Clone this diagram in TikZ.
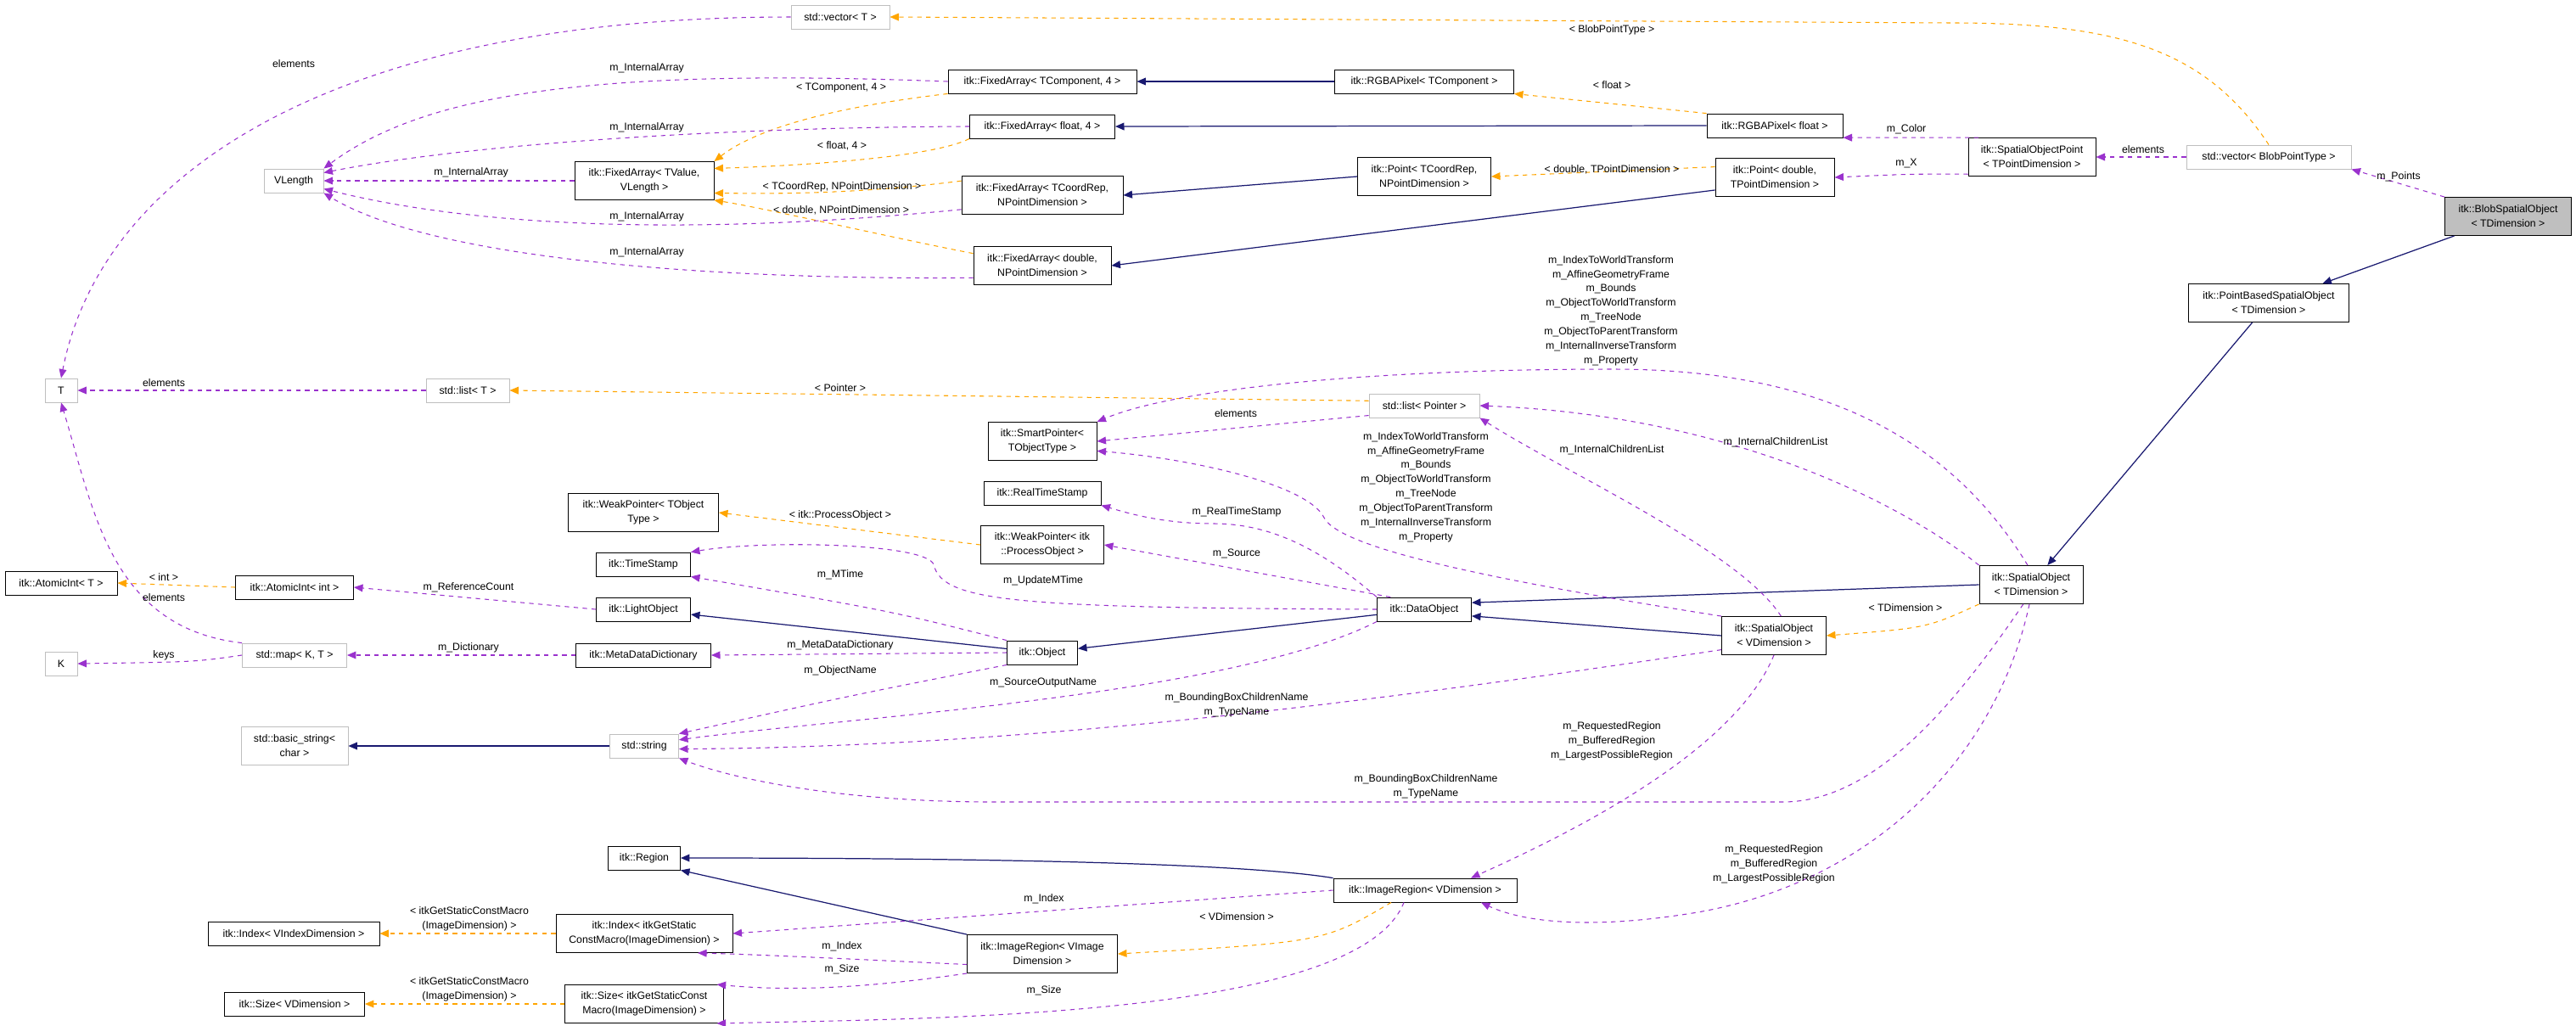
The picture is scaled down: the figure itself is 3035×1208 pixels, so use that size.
\documentclass[tikz,border=0pt]{standalone}
\usepackage{fontspec}
\setmainfont{Liberation Sans}
\usetikzlibrary{arrows.meta}
\definecolor{dgPurple}{HTML}{9A32CD}
\definecolor{dgBlue}{HTML}{191970}
\definecolor{dgOrange}{HTML}{FFA500}
\definecolor{dgGray}{HTML}{BFBFBF}
\newcommand{\dgfont}{\fontsize{7}{9.6}\selectfont}
\tikzset{
  cls/.style = {draw = black, fill = white, line width = 0.5pt, inner sep = 1pt,
    minimum height = 0.56cm, align = center, font = \dgfont},
  ext/.style = {cls, draw = dgGray},
  two/.style = {minimum height = 0.9cm},
  pw/.style = {minimum width = #1*0.02cm},
  lbl/.style = {font = \dgfont, align = center, inner sep = 0pt},
  uses/.style = {dgPurple, line width = 0.6pt, dashed, -{Triangle[length = 6pt, width = 5pt]}},
  inh/.style = {dgBlue, line width = 0.7pt, -{Triangle[length = 6pt, width = 5pt]}},
  tmpl/.style = {dgOrange, line width = 0.6pt, dashed, -{Triangle[length = 6pt, width = 5pt]}}
}

\begin{document}
\begin{tikzpicture}[x = 0.02cm, y = -0.02cm]
    \useasboundingbox (0, 0) rectangle (3035, 1208);
    % classes
    \node[ext, pw = 116] (vecT) at (990, 20) {std::vector< T >};
    \node[ext, pw = 70] (vlen) at (346, 213) {VLength};
    \node[cls, two, pw = 164] (faV) at (759, 213) {itk::FixedArray< TValue,\\ VLength >};
    \node[cls, pw = 222] (faC) at (1228, 96) {itk::FixedArray< TComponent, 4 >};
    \node[cls, pw = 211] (rgbaC) at (1678, 96) {itk::RGBAPixel< TComponent >};
    \node[cls, pw = 171] (faF) at (1228, 149) {itk::FixedArray< float, 4 >};
    \node[cls, two, pw = 157] (ptC) at (1678, 208) {itk::Point< TCoordRep,\\ NPointDimension >};
    \node[cls, two, pw = 190] (faR) at (1228, 230) {itk::FixedArray< TCoordRep,\\ NPointDimension >};
    \node[cls, two, pw = 162] (faD) at (1228, 313) {itk::FixedArray< double,\\ NPointDimension >};
    \node[cls, pw = 160] (rgbaF) at (2091, 148) {itk::RGBAPixel< float >};
    \node[cls, two, pw = 140] (ptD) at (2091, 209) {itk::Point< double,\\ TPointDimension >};
    \node[cls, two, pw = 150] (sop) at (2394, 185) {itk::SpatialObjectPoint\\ < TPointDimension >};
    \node[ext, pw = 194] (vecB) at (2673, 185) {std::vector< BlobPointType >};
    \node[cls, two, pw = 149, fill = dgGray] (blob) at (2955, 255) {itk::BlobSpatialObject\\ < TDimension >};
    \node[cls, two, pw = 189] (pbso) at (2673, 357) {itk::PointBasedSpatialObject\\ < TDimension >};
    \node[ext, pw = 38] (T) at (72, 460) {T};
    \node[ext, pw = 98] (listT) at (551, 460) {std::list< T >};
    \node[ext, pw = 130] (listP) at (1678, 478) {std::list< Pointer >};
    \node[cls, two, pw = 128] (smart) at (1228, 520) {itk::SmartPointer<\\ TObjectType >};
    \node[cls, pw = 138] (rts) at (1228, 581) {itk::RealTimeStamp};
    \node[cls, two, pw = 177] (weakT) at (758, 604) {itk::WeakPointer< TObject\\ Type >};
    \node[cls, two, pw = 145] (weakP) at (1228, 642) {itk::WeakPointer< itk\\ ::ProcessObject >};
    \node[cls, pw = 111] (ts) at (758, 665) {itk::TimeStamp};
    \node[cls, two, pw = 122] (so) at (2393, 689) {itk::SpatialObject\\ < TDimension >};
    \node[cls, pw = 132] (atomT) at (72, 687) {itk::AtomicInt< T >};
    \node[cls, pw = 139] (atomI) at (347, 692) {itk::AtomicInt< int >};
    \node[cls, pw = 111] (light) at (758, 718) {itk::LightObject};
    \node[cls, pw = 111] (data) at (1678, 718) {itk::DataObject};
    \node[cls, two, pw = 123] (sov) at (2090, 749) {itk::SpatialObject\\ < VDimension >};
    \node[cls, pw = 83] (obj) at (1228, 769) {itk::Object};
    \node[cls, pw = 159] (mdd) at (758, 772) {itk::MetaDataDictionary};
    \node[ext, pw = 123] (map) at (347, 772) {std::map< K, T >};
    \node[ext, pw = 38] (K) at (72, 782) {K};
    \node[ext, two, pw = 126] (bstr) at (347, 879) {std::basic\_string<\\ char >};
    \node[ext, pw = 81] (str) at (759, 879) {std::string};
    \node[cls, pw = 85] (region) at (759, 1011) {itk::Region};
    \node[cls, pw = 216] (irv) at (1679, 1049) {itk::ImageRegion< VDimension >};
    \node[cls, two, pw = 208] (idxS) at (759, 1100) {itk::Index< itkGetStatic\\ ConstMacro(ImageDimension) >};
    \node[cls, pw = 202] (idxV) at (346, 1100) {itk::Index< VIndexDimension >};
    \node[cls, two, pw = 177] (iri) at (1228, 1124) {itk::ImageRegion< VImage\\ Dimension >};
    \node[cls, two, pw = 187] (sizS) at (759, 1183) {itk::Size< itkGetStaticConst\\ Macro(ImageDimension) >};
    \node[cls, pw = 165] (sizV) at (347, 1183) {itk::Size< VDimension >};

    % inheritance
    \draw[inh] (blob) -- (pbso);
    \draw[inh] (pbso) -- (so);
    \draw[inh] (so.west) -- (data.8);
    \draw[inh] (sov.west) -- (data.-8);
    \draw[inh] (data) -- (obj);
    \draw[inh] (obj) -- (light);
    \draw[inh] (str) -- (bstr);
    \draw[inh] (irv.north west) .. controls (1450, 1015) and (1100, 1011) .. (region.east);
    \draw[inh] (iri.north west) -- (region.south east);
    \draw[inh] (rgbaC) -- (faC);
    \draw[inh] (rgbaF.west) -- (faF.east);
    \draw[inh] (ptC.west) -- (faR.east);
    \draw[inh] (ptD.-168) -- (faD.east);

    % template instances
    \draw[tmpl] (vecB.north) .. controls (2600, 60) and (2500, 27) .. (2300, 27) -- (vecT.east);
    \draw[tmpl] (rgbaF.north west) -- (rgbaC.south east);
    \draw[tmpl] (ptD.170) -- (ptC.east);
    \draw[tmpl] (faC.south west) .. controls (950, 130) and (880, 160) .. (faV.north east);
    \draw[tmpl] (faF.south west) .. controls (1100, 185) and (950, 195) .. (faV.10);
    \draw[tmpl] (faR.170) .. controls (1000, 230) and (900, 228) .. (faV.-10);
    \draw[tmpl] (faD.170) .. controls (1050, 280) and (900, 245) .. (faV.south east);
    \draw[tmpl] (listP.175) -- (listT.east);
    \draw[tmpl] (atomI.west) -- (atomT.east);
    \draw[tmpl] (weakP.west) -- (weakT.east);
    \draw[tmpl] (so.south west) .. controls (2270, 740) .. (sov.east);
    \draw[tmpl] ([xshift = -0.8cm]irv.south) .. controls (1560, 1110) .. (iri.east);
    \draw[tmpl] (idxS.west) -- (idxV.east);
    \draw[tmpl] (sizS.west) -- (sizV.east);

    % members
    \draw[uses] (vecT.west) .. controls (400, 20) and (120, 200) .. (T.north);
    \draw[uses] (faC.west) .. controls (700, 80) and (500, 110) .. (vlen.north east);
    \draw[uses] (faF.west) .. controls (850, 150) and (550, 170) .. (vlen.15);
    \draw[uses] (faV.west) -- (vlen.east);
    \draw[uses] (faR.-170) .. controls (800, 280) and (550, 265) .. (vlen.-15);
    \draw[uses] (faD.-170) .. controls (800, 330) and (500, 300) .. (vlen.south east);
    \draw[uses] (listT.west) -- (T.east);
    \draw[uses] (map.north west) .. controls (130, 740) and (110, 600) .. (T.south);
    \draw[uses] (map.west) .. controls (230, 780) .. (K.east);
    \draw[uses] (mdd.west) -- (map.east);
    \draw[uses] (light.west) -- (atomI.east);
    \draw[uses] (obj.west) -- (mdd.east);
    \draw[uses] (obj.north west) .. controls (1050, 720) .. (ts.south east);
    \draw[uses] (data.west) .. controls (1200, 716) and (1110, 710) .. (1100, 665)
      .. controls (1090, 640) and (900, 636) .. (ts.north east);
    \draw[uses] (data.north west) .. controls (1560, 650) and (1500, 617) .. (1430, 617)
      .. controls (1370, 617) and (1330, 605) .. (rts.south east);
    \draw[uses] (data.160) -- (weakP.east);
    \draw[uses] (listP.-170) -- (smart.east);
    \draw[uses] (sov.north west) .. controls (1800, 690) and (1580, 650) .. (1560, 610)
      .. controls (1540, 570) and (1400, 540) .. (smart.-10);
    \draw[uses] (so.100) .. controls (2300, 520) and (2150, 435) .. (1900, 435)
      .. controls (1600, 435) and (1380, 460) .. (smart.north east);
    \draw[uses] (sov.70) .. controls (2050, 650) and (1850, 560) .. (listP.south east);
    \draw[uses] (so.north west) .. controls (2250, 600) and (2050, 490) .. (listP.east);
    \draw[uses] (sov.south) .. controls (2050, 870) and (1900, 960) .. ([xshift = 1.08cm]irv.north);
    \draw[uses] (so.-95) .. controls (2350, 900) and (2200, 1040) .. (2000, 1075)
      .. controls (1850, 1100) and (1780, 1080) .. ([xshift = 1.32cm]irv.south);
    \draw[uses] (so.-112) .. controls (2290, 850) and (2200, 945) .. (2100, 945) -- (1170, 945)
      .. controls (1000, 945) and (870, 920) .. (str.south east);
    \draw[uses] (sov.-165) .. controls (1600, 830) and (1200, 880) .. (str.-5);
    \draw[uses] (data.south west) .. controls (1450, 820) and (1000, 845) .. (str.10);
    \draw[uses] (obj.south west) .. controls (1000, 820) .. (str.north east);
    \draw[uses] (irv.west) -- (idxS.east);
    \draw[uses] (iri.-172) .. controls (1000, 1130) and (900, 1125) .. (idxS.-20);
    \draw[uses] (iri.south west) .. controls (1050, 1160) and (950, 1170) .. (sizS.15);
    \draw[uses] ([xshift = -0.5cm]irv.south) .. controls (1600, 1200) and (1100, 1200) .. (sizS.-15);
    \draw[uses] (vecB.west) -- (sop.east);
    \draw[uses] (sop.160) -- (rgbaF.-10);
    \draw[uses] (sop.-165) .. controls (2250, 205) .. (ptD.east);
    \draw[uses] (blob.north west) -- (vecB.south east);

    % labels
    \node[lbl] (lBlob) at (1899, 35) {< BlobPointType >};
    \node[lbl] (lFloat) at (1899, 100) {< float >};
    \node[lbl] (lDblT) at (1899, 200) {< double, TPointDimension >};
    \node[lbl] (lSoSmart) at (1898, 366) {m\_IndexToWorldTransform\\ m\_AffineGeometryFrame\\ m\_Bounds\\
      m\_ObjectToWorldTransform\\ m\_TreeNode\\ m\_ObjectToParentTransform\\ m\_InternalInverseTransform\\ m\_Property};
    \node[lbl] (lVecT) at (346, 75) {elements};
    \node[lbl] (lArrC) at (762, 80) {m\_InternalArray};
    \node[lbl] (lArrF) at (762, 150) {m\_InternalArray};
    \node[lbl] (lArrV) at (555, 203) {m\_InternalArray};
    \node[lbl] (lArrR) at (762, 255) {m\_InternalArray};
    \node[lbl] (lArrD) at (762, 297) {m\_InternalArray};
    \node[lbl] (lTC) at (991, 103) {< TComponent, 4 >};
    \node[lbl] (lTF) at (992, 172) {< float, 4 >};
    \node[lbl] (lTR) at (992, 220) {< TCoordRep, NPointDimension >};
    \node[lbl] (lTD) at (991, 248) {< double, NPointDimension >};
    \node[lbl] (lColor) at (2246, 152) {m\_Color};
    \node[lbl] (lX) at (2246, 192) {m\_X};
    \node[lbl] (lSop) at (2525, 176) {elements};
    \node[lbl] (lPoints) at (2826, 208) {m\_Points};
    \node[lbl] (lListT) at (193, 451) {elements};
    \node[lbl] (lInt) at (193, 680) {< int >};
    \node[lbl] (lMapT) at (193, 704) {elements};
    \node[lbl] (lRef) at (552, 692) {m\_ReferenceCount};
    \node[lbl] (lKeys) at (193, 772) {keys};
    \node[lbl] (lDict) at (552, 763) {m\_Dictionary};
    \node[lbl] (lPtr) at (990, 457) {< Pointer >};
    \node[lbl] (lProc) at (990, 607) {< itk::ProcessObject >};
    \node[lbl] (lMTime) at (990, 677) {m\_MTime};
    \node[lbl] (lMdd) at (990, 760) {m\_MetaDataDictionary};
    \node[lbl] (lObjName) at (990, 790) {m\_ObjectName};
    \node[lbl] (lListP) at (1456, 487) {elements};
    \node[lbl] (lSovSmart) at (1680, 574) {m\_IndexToWorldTransform\\ m\_AffineGeometryFrame\\ m\_Bounds\\
      m\_ObjectToWorldTransform\\ m\_TreeNode\\ m\_ObjectToParentTransform\\ m\_InternalInverseTransform\\ m\_Property};
    \node[lbl] (lRts) at (1457, 603) {m\_RealTimeStamp};
    \node[lbl] (lSource) at (1457, 652) {m\_Source};
    \node[lbl] (lUpd) at (1229, 684) {m\_UpdateMTime};
    \node[lbl] (lSrcOut) at (1229, 804) {m\_SourceOutputName};
    \node[lbl] (lSovStr) at (1457, 831) {m\_BoundingBoxChildrenName\\ m\_TypeName};
    \node[lbl] (lChildV) at (1899, 530) {m\_InternalChildrenList};
    \node[lbl] (lChildT) at (2092, 521) {m\_InternalChildrenList};
    \node[lbl] (lTDim) at (2245, 716) {< TDimension >};
    \node[lbl] (lIdxT) at (553, 1083) {< itkGetStaticConstMacro\\ (ImageDimension) >};
    \node[lbl] (lSizT) at (553, 1166) {< itkGetStaticConstMacro\\ (ImageDimension) >};
    \node[lbl] (lIdxV) at (1230, 1059) {m\_Index};
    \node[lbl] (lIdxI) at (992, 1115) {m\_Index};
    \node[lbl] (lSizI) at (992, 1142) {m\_Size};
    \node[lbl] (lSizV) at (1230, 1167) {m\_Size};
    \node[lbl] (lVDim) at (1457, 1080) {< VDimension >};
    \node[lbl] (lRegV) at (1899, 873) {m\_RequestedRegion\\ m\_BufferedRegion\\ m\_LargestPossibleRegion};
    \node[lbl] (lRegT) at (2090, 1018) {m\_RequestedRegion\\ m\_BufferedRegion\\ m\_LargestPossibleRegion};
    \node[lbl] (lSoStr) at (1680, 927) {m\_BoundingBoxChildrenName\\ m\_TypeName};
  \end{tikzpicture}
\end{document}
